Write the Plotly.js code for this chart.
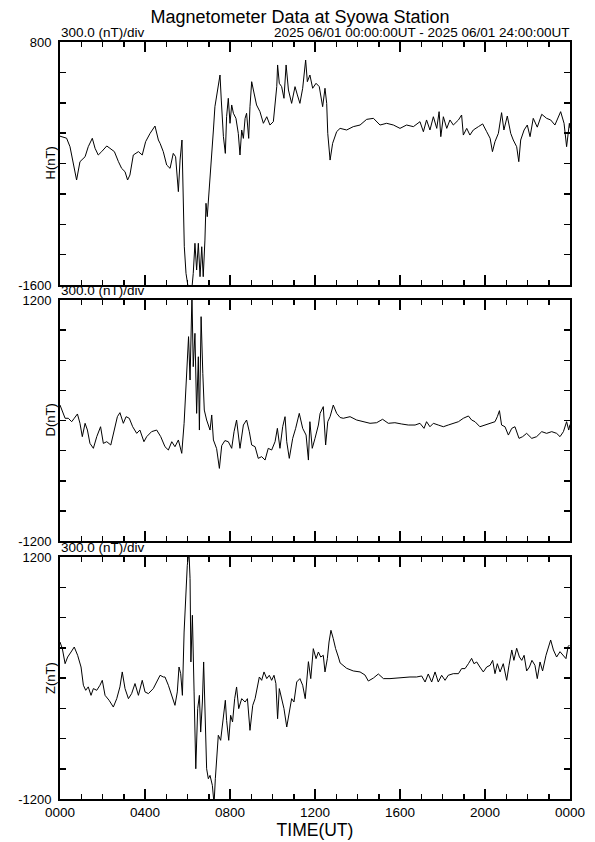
<!DOCTYPE html>
<html>
<head>
<meta charset="utf-8">
<script src="https://cdn.plot.ly/plotly-3.0.1.min.js"></script>
<style>
html,body{margin:0;padding:0;background:#fff;}
#chart{width:595px;height:842px;}
</style>
</head>
<body>
<div id="chart"></div>
<script>
// ---- Data (hours UT, nT) ----
const hTime = [0.00,0.31,0.47,0.63,0.78,0.94,1.18,1.33,1.52,1.65,1.80,1.96,2.20,2.35,2.56,2.75,2.90,3.06,3.18,3.29,3.45,3.69,3.87,4.03,4.24,4.47,4.63,4.71,4.86,5.02,5.18,5.33,5.44,5.57,5.65,5.74,5.80,5.85,5.93,5.99,6.05,6.20,6.27,6.35,6.43,6.51,6.59,6.67,6.74,6.82,6.87,6.93,7.01,7.09,7.22,7.29,7.37,7.45,7.53,7.59,7.69,7.78,7.84,7.92,8.00,8.08,8.16,8.28,8.39,8.47,8.55,8.63,8.71,8.78,8.88,8.94,9.02,9.10,9.25,9.41,9.49,9.57,9.73,9.88,10.04,10.12,10.20,10.24,10.32,10.43,10.54,10.64,10.75,10.90,11.06,11.17,11.29,11.42,11.56,11.64,11.76,11.89,12.05,12.20,12.36,12.47,12.55,12.60,12.71,12.83,13.02,13.18,13.49,13.80,14.12,14.43,14.75,15.06,15.37,15.69,16.00,16.31,16.63,16.94,17.10,17.25,17.41,17.57,17.73,17.84,17.92,18.04,18.20,18.35,18.51,18.75,18.90,18.98,19.14,19.29,19.45,19.69,19.89,20.08,20.24,20.35,20.47,20.63,20.78,20.89,21.05,21.21,21.33,21.49,21.59,21.68,21.84,21.99,22.12,22.27,22.46,22.67,22.90,23.09,23.29,23.56,23.72,23.84,23.97,24.00];
const hValue = [-130,-150,-234,-398,-563,-382,-333,-234,-151,-250,-316,-283,-227,-250,-283,-382,-448,-481,-563,-514,-316,-283,-316,-184,-102,-30,-168,-201,-283,-415,-448,-300,-333,-678,-366,-168,-662,-1222,-1485,-1583,-1650,-1650,-1485,-1188,-1452,-1188,-1518,-1222,-1518,-1156,-793,-925,-695,-530,-69,161,260,359,474,227,-135,-300,62,244,-3,178,96,46,-102,-316,-69,-152,46,96,-152,161,408,326,178,112,62,-3,62,-20,13,161,359,573,392,359,244,573,326,194,359,277,194,343,622,408,474,343,392,359,161,343,194,-102,-366,-201,-85,-53,-69,-36,-20,36,46,-20,-3,-20,-53,-20,-36,13,-86,30,-69,62,-53,112,-135,62,-53,30,-20,30,79,-119,-53,-119,-69,-36,-9,-86,-151,-283,-184,-102,102,-69,69,-102,-168,-234,-382,-168,-69,-20,-135,46,-41,86,46,30,-20,112,-3,-234,-3,-50];

const dTime = [0.00,0.13,0.24,0.39,0.55,0.67,0.82,0.94,1.05,1.18,1.29,1.41,1.57,1.73,1.91,2.04,2.20,2.39,2.54,2.70,2.82,2.98,3.11,3.26,3.42,3.61,3.76,3.95,4.08,4.31,4.55,4.74,4.94,5.10,5.26,5.41,5.57,5.73,5.84,5.91,5.99,6.05,6.12,6.16,6.21,6.27,6.35,6.43,6.51,6.56,6.64,6.72,6.79,6.90,7.06,7.14,7.22,7.37,7.50,7.61,7.76,7.92,8.08,8.19,8.31,8.47,8.63,8.78,8.91,9.02,9.18,9.33,9.49,9.65,9.80,9.96,10.12,10.23,10.35,10.48,10.59,10.67,10.79,10.95,11.09,11.26,11.42,11.58,11.69,11.76,11.87,12.00,12.16,12.24,12.39,12.50,12.60,12.71,12.86,13.02,13.18,13.33,13.65,13.96,14.27,14.59,14.90,15.18,15.45,15.76,16.08,16.39,16.71,16.94,17.13,17.25,17.41,17.57,17.80,18.04,18.27,18.51,18.75,18.98,19.22,19.37,19.53,19.76,20.00,20.24,20.47,20.58,20.68,20.78,20.94,21.10,21.26,21.41,21.60,21.77,21.96,22.20,22.43,22.67,22.90,23.14,23.37,23.53,23.69,23.84,23.94,24.00];
const dValue = [154,90,22,22,-12,22,65,-28,-161,-28,-95,-228,-277,-161,-62,-228,-211,-244,-95,38,78,-28,38,22,-62,-128,-95,-211,-161,-111,-95,-161,-261,-294,-211,-261,-194,-327,-28,304,536,835,403,1034,1250,536,868,71,635,-95,1034,470,104,5,-95,55,-194,-280,-477,-250,-200,-211,-277,-112,5,-277,-45,5,-112,-244,-261,-377,-360,-394,-277,-294,-211,-78,-277,-61,38,-211,-377,-178,-78,71,-78,-145,-394,-12,-277,-178,-45,71,138,-244,-12,38,154,71,30,22,38,5,-12,-28,-22,12,-28,-22,-35,-45,-45,-28,-78,-12,-62,-28,-45,-62,-45,-28,-12,22,45,5,-12,-62,-45,-28,-12,38,98,-45,-62,-145,-78,-62,-178,-161,-128,-178,-161,-111,-128,-111,-128,-161,-111,-12,-95,-40];

const zTime = [0.00,0.11,0.24,0.36,0.52,0.67,0.83,0.99,1.10,1.21,1.33,1.46,1.57,1.73,1.88,1.99,2.12,2.31,2.51,2.67,2.82,2.93,3.06,3.22,3.37,3.53,3.69,3.87,4.00,4.16,4.39,4.55,4.71,4.86,4.94,5.10,5.25,5.41,5.52,5.60,5.68,5.76,5.84,5.91,5.99,6.07,6.12,6.16,6.23,6.31,6.39,6.48,6.56,6.62,6.70,6.76,6.82,6.90,6.98,7.06,7.17,7.25,7.31,7.37,7.45,7.56,7.69,7.78,7.84,7.94,8.03,8.12,8.22,8.31,8.41,8.55,8.71,8.82,8.94,9.07,9.18,9.29,9.38,9.49,9.60,9.73,9.85,9.96,10.07,10.16,10.24,10.32,10.43,10.54,10.67,10.79,10.90,11.01,11.14,11.29,11.42,11.54,11.69,11.80,11.92,12.05,12.16,12.27,12.39,12.47,12.58,12.66,12.75,12.86,12.97,13.10,13.18,13.49,13.80,14.12,14.35,14.51,14.75,14.98,15.22,15.53,15.84,16.16,16.47,16.78,17.02,17.18,17.33,17.49,17.65,17.80,17.96,18.12,18.27,18.51,18.75,18.90,19.06,19.22,19.37,19.48,19.61,19.76,19.92,20.08,20.24,20.36,20.47,20.58,20.71,20.86,21.02,21.13,21.26,21.36,21.49,21.62,21.73,21.84,21.96,22.09,22.21,22.35,22.46,22.59,22.71,22.87,23.00,23.09,23.22,23.37,23.53,23.69,23.81,23.91,23.97];
const zValue = [357,291,142,208,258,307,225,109,-72,-122,-88,-172,-105,-122,-72,-23,-172,-221,-288,-205,-88,60,-105,-205,-155,-55,-172,-23,-138,-155,-105,-39,27,10,10,-72,-172,-271,-138,109,43,-172,456,754,1118,1250,985,159,622,-138,-900,-304,-172,-536,-238,159,-404,-900,-999,-966,-1065,-1250,-999,-767,-568,-618,-370,-221,-420,-618,-370,-436,-205,-89,-304,-205,-238,-205,-519,-271,-205,-72,10,-23,60,-6,27,-23,27,-55,-404,-105,-205,-304,-486,-337,-205,-238,-39,-6,-72,-205,162,-6,291,192,258,208,225,60,192,357,473,390,291,208,150,96,70,60,30,-30,0,40,-6,-6,0,3,10,10,20,-40,40,-40,60,-40,27,-23,27,43,43,93,93,142,195,142,159,109,60,109,126,175,43,142,60,142,-23,126,278,175,295,208,175,225,70,109,175,126,-6,159,70,225,327,377,278,208,261,225,192,311,327];

// ---- Axis labels / text ----
const xTickVals = [0,4,8,12,16,20,24];
const xTickText = ["0000","0400","0800","1200","1600","2000","0000"];
const hTicks = [-1600,-1300,-1000,-700,-400,-100,200,500,800];
const hTickText = ["-1600","","","","","","","","800"];
const dzTicks = [-1200,-900,-600,-300,0,300,600,900,1200];
const dzTickText = ["-1200","","","","","","","","1200"];
const panelNames = ["H(nT)","D(nT)","Z(nT)"];
const scaleText = "300.0 (nT)/div";
const rangeText = "2025 06/01 00:00:00UT - 2025 06/01 24:00:00UT";
const titleText = "Magnetometer Data at Syowa Station";

const FONT = "Liberation Sans, Arial, Helvetica, sans-serif";

const trace = (x, y, xa, ya) => ({
  x: x, y: y, xaxis: xa, yaxis: ya, type: 'scatter', mode: 'lines',
  line: {color: '#000', width: 1}, hoverinfo: 'skip', showlegend: false
});

const data = [
  trace(hTime, hValue, 'x', 'y'),
  trace(dTime, dValue, 'x2', 'y2'),
  trace(zTime, zValue, 'x3', 'y3')
];

const H = 842, T = 42, B = 43;
const ph = H - T - B;
const dom = (top, bot) => [(H - B - bot) / ph, (H - B - top) / ph];
const d1 = dom(42, 285), d2 = dom(300, 541), d3 = dom(557, 799);

const xaxisBase = (anchor, labels) => ({
  anchor: anchor, domain: [0, 1], range: [0, 24],
  showline: true, linecolor: '#000', linewidth: 2, mirror: 'ticks',
  showgrid: false, zeroline: false,
  tickmode: 'array', tickvals: xTickVals, ticktext: xTickText,
  ticks: 'inside', ticklen: 10, tickwidth: 2, tickcolor: '#000',
  minor: {tickmode: 'linear', tick0: 0, dtick: 1, ticks: 'inside', ticklen: 5, tickwidth: 1.5, tickcolor: '#000', showgrid: false},
  showticklabels: labels,
  tickfont: {family: FONT, size: 13.5, color: '#000'},
  fixedrange: true
});

const yaxisBase = (anchor, domain, range, tv, tt) => ({
  anchor: anchor, domain: domain, range: range,
  showline: true, linecolor: '#000', linewidth: 2, mirror: 'ticks',
  showgrid: false, zeroline: false,
  tickmode: 'array', tickvals: tv, ticktext: tt,
  ticks: 'inside', ticklen: 6, tickwidth: 1.5, tickcolor: '#000',
  tickfont: {family: FONT, size: 13, color: '#000'},
  ticklabelstandoff: 4,
  fixedrange: true
});

const xa3 = xaxisBase('y3', true);
xa3.title = {text: 'TIME(UT)', font: {family: FONT, size: 17.5, color: '#000'}, standoff: 2};

const ann = (text, x, y, xanchor, yanchor, opts) => Object.assign({
  text: text, xref: 'paper', yref: 'paper', x: x, y: y,
  xanchor: xanchor, yanchor: yanchor, showarrow: false,
  font: {family: FONT, size: 13.5, color: '#000'}, borderpad: 0
}, opts || {});

const yTitle = (text, d) => ann(text, 0, (d[0] + d[1]) / 2, 'center', 'middle',
  {textangle: -90, xshift: -10, font: {family: FONT, size: 13, color: '#000'}});

const layout = {
  width: 595, height: 842,
  margin: {l: 60, r: 25, t: T, b: B, pad: 0},
  paper_bgcolor: '#fff', plot_bgcolor: '#fff',
  font: {family: FONT, color: '#000'},
  title: {text: titleText, font: {family: FONT, size: 18, color: '#000'},
          xref: 'container', x: 300 / 595, xanchor: 'center',
          yref: 'container', y: 1 - 17 / 842, yanchor: 'middle'},
  xaxis: xaxisBase('y', false),
  xaxis2: xaxisBase('y2', false),
  xaxis3: xa3,
  yaxis: yaxisBase('x', d1, [-1600, 800], hTicks, hTickText),
  yaxis2: yaxisBase('x2', d2, [-1200, 1200], dzTicks, dzTickText),
  yaxis3: yaxisBase('x3', d3, [-1200, 1200], dzTicks, dzTickText),
  annotations: [
    ann(scaleText, 0, d1[1], 'left', 'bottom', {yshift: 1}),
    ann(rangeText, 1, d1[1], 'right', 'bottom', {yshift: 1}),
    ann(scaleText, 0, d2[1], 'left', 'bottom', {yshift: 1}),
    ann(scaleText, 0, d3[1], 'left', 'bottom', {yshift: 1}),
    yTitle(panelNames[0], d1),
    yTitle(panelNames[1], d2),
    yTitle(panelNames[2], d3)
  ]
};

Plotly.newPlot('chart', data, layout, {staticPlot: true, displayModeBar: false});
</script>
</body>
</html>
